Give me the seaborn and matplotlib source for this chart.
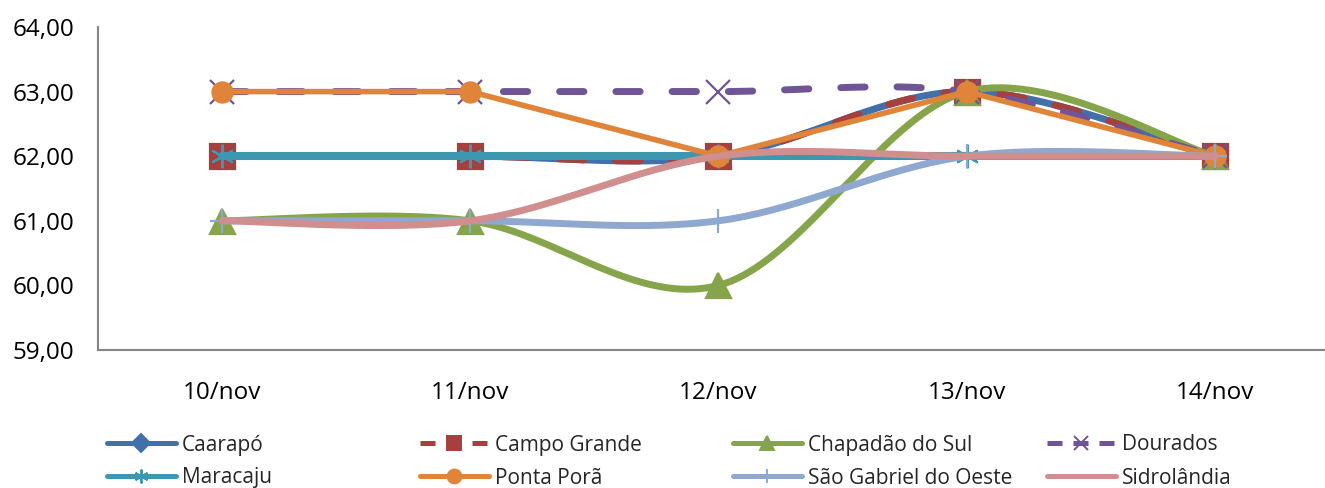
import numpy as np
import pandas as pd
import matplotlib
matplotlib.use("Agg")
import matplotlib.pyplot as plt
from matplotlib.lines import Line2D
import seaborn as sns

dates = ["10/nov", "11/nov", "12/nov", "13/nov", "14/nov"]
series_names = ["Caarapó", "Campo Grande", "Chapadão do Sul", "Dourados",
                "Maracaju", "Ponta Porã", "São Gabriel do Oeste", "Sidrolândia"]
caarapo = [62, 62, 62, 63, 62]
campo_grande = [62, 62, 62, 63, 62]
chapadao = [61, 61, 60, 63, 62]
dourados = [63, 63, 63, 63, 62]
maracaju = [62, 62, 62, 62, 62]
ponta_pora = [63, 63, 62, 63, 62]
sao_gabriel = [61, 61, 61, 62, 62]
sidrolandia = [61, 61, 62, 62, 62]
values = [caarapo, campo_grande, chapadao, dourados,
          maracaju, ponta_pora, sao_gabriel, sidrolandia]

colors = ["#4170AA", "#A5403E", "#86A44A", "#6F5595",
          "#3E97B0", "#E0843A", "#8FA8CF", "#D08E8E"]
markers = ["D", "s", "^", "x", (6, 2, 0), "o", "+", None]
msizes = [11, 18, 18, 17, 17, 14.5, 17, 0]
lmsizes = [9, 10.5, 10.5, 10, 10, 10, 10, 0]
dashed = [False, True, False, True, False, False, False, False]
smoothed = [True, True, True, True, True, False, True, True]
widths = [5, 5, 5, 5, 5.8, 4, 5, 5]


def smooth_curve(y, n=40):
    # Excel-like smoothed line: cubic Bezier through points (Catmull-Rom)
    x = np.arange(len(y), dtype=float)
    y = np.asarray(y, dtype=float)
    xs, ys = [], []
    t = np.linspace(0, 1, n)
    for i in range(len(y) - 1):
        i0 = max(i - 1, 0)
        i3 = min(i + 2, len(y) - 1)
        cx1 = x[i] + (x[i + 1] - x[i0]) / 6
        cy1 = y[i] + (y[i + 1] - y[i0]) / 6
        cx2 = x[i + 1] - (x[i3] - x[i]) / 6
        cy2 = y[i + 1] - (y[i3] - y[i]) / 6
        bx = (1 - t) ** 3 * x[i] + 3 * (1 - t) ** 2 * t * cx1 + 3 * (1 - t) * t ** 2 * cx2 + t ** 3 * x[i + 1]
        by = (1 - t) ** 3 * y[i] + 3 * (1 - t) ** 2 * t * cy1 + 3 * (1 - t) * t ** 2 * cy2 + t ** 3 * y[i + 1]
        xs.extend(bx)
        ys.extend(by)
    return np.array(xs), np.array(ys)


sns.set_style("white")
plt.rcParams["font.family"] = ["Open Sans", "DejaVu Sans"]

fig = plt.figure(figsize=(13.25, 4.88), dpi=100)
ax = fig.add_axes([98 / 1325, 1 - 350 / 488, 1241 / 1325, 323 / 488])

pos = np.arange(len(dates))
for k, name in enumerate(series_names):
    vals = values[k]
    if smoothed[k]:
        cx, cy = smooth_curve(vals)
    else:
        cx, cy = pos.astype(float), np.array(vals, dtype=float)
    curve = pd.DataFrame({"x": cx, "y": cy})
    kw = dict(color=colors[k], linewidth=widths[k], solid_capstyle="round", zorder=2 + k)
    if dashed[k]:
        kw.update(dashes=(3.5, 4.6), dash_capstyle="round")
    sns.lineplot(data=curve, x="x", y="y", ax=ax, sort=False, estimator=None, **kw)
    if markers[k] is not None:
        ax.plot(pos, vals, linestyle="none", marker=markers[k], markersize=msizes[k],
                color=colors[k], markeredgecolor=colors[k], markeredgewidth=1.6,
                zorder=2 + k)

ax.set_xlim(-0.5, len(dates) - 0.5)
ax.set_ylim(59, 64)
ax.set_xticks(pos)
ax.set_xticklabels(dates)
ax.set_yticks(np.arange(59, 65))
ax.set_yticklabels([f"{v:.2f}".replace(".", ",") for v in np.arange(59, 65)])
ax.set_xlabel("")
ax.set_ylabel("")
ax.tick_params(axis="both", length=0, labelsize=17.5, colors="#000000")
ax.tick_params(axis="y", pad=17)
ax.tick_params(axis="x", pad=22)
sns.despine(ax=ax, top=True, right=True)
for side in ["left", "bottom"]:
    ax.spines[side].set_color("#868686")
    ax.spines[side].set_linewidth(1.5)

# legend: 4 equal columns, 2 rows, one entry each
col_x = [107, 420, 733, 1047]
row_y = [445, 478]
for k, name in enumerate(series_names):
    r, c = divmod(k, 4)
    hkw = dict(color=colors[k], linewidth=3.6)
    if dashed[k]:
        hkw.update(dashes=(3, 2.2), dash_capstyle="butt")
    if markers[k] is not None:
        hkw.update(marker=markers[k], markersize=lmsizes[k], markeredgewidth=1.4,
                   markeredgecolor=colors[k])
    h = Line2D([0], [0], **hkw)
    fig.legend([h], [name], loc="center left",
               bbox_to_anchor=(col_x[c] / 1325, 1 - row_y[r] / 488),
               frameon=False, fontsize=15, handlelength=3.3, handletextpad=0.3,
               borderpad=0, borderaxespad=0)

fig.savefig("out.png", dpi=100)
